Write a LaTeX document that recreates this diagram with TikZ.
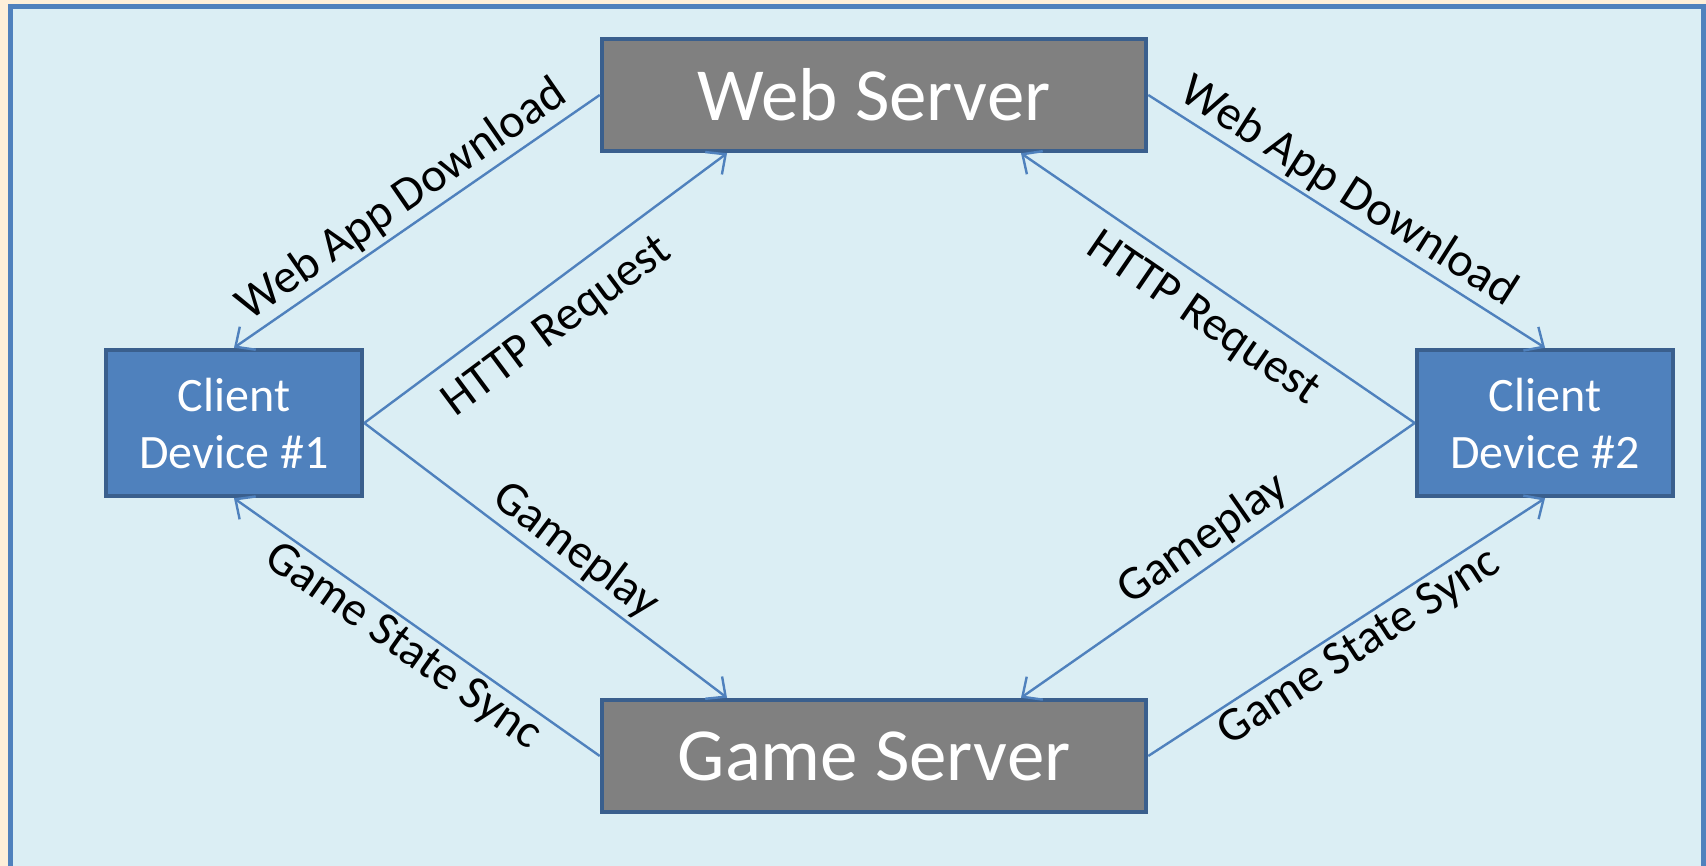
\documentclass[tikz,border=0pt]{standalone}
\usepackage{fontspec}
\setmainfont{Carlito}
\usetikzlibrary{arrows.meta}
\definecolor{beige}{HTML}{FDEFD9}
\definecolor{panel}{HTML}{DBEEF4}
\definecolor{accent}{HTML}{4F81BD}
\definecolor{edge}{HTML}{3A5F8D}
\definecolor{srvgray}{HTML}{808080}
\begin{document}
\begin{tikzpicture}[x=1pt,y=-1pt,
  server/.style={draw=edge,line width=4.5pt,fill=srvgray,text=white,minimum width=544pt,minimum height=112pt,inner sep=0pt,font=\fontsize{75}{90}\selectfont},
  client/.style={draw=edge,line width=4.5pt,fill=accent,text=white,minimum width=256pt,minimum height=146pt,inner sep=0pt,align=center,font=\fontsize{48}{57}\selectfont},
  link/.style={draw=accent,line width=2.4pt,-{Straight Barb[length=15pt,width=28pt,line width=2.4pt]}},
  lbl/.style={midway,sloped,font=\fontsize{48}{56}\selectfont,text=black,inner sep=4pt}
]
\useasboundingbox (0,0) rectangle (1706,866);
\fill[beige] (0,0) rectangle (1706,866);
\filldraw[fill=panel,draw=accent,line width=5pt] (10.5,6.5) rectangle (1703.5,880);
\node[server] (web) at (874,95) {Web Server};
\node[server] (game) at (874,756) {Game Server};
\node[client] (c1) at (234,423) {Client\\Device \#1};
\node[client] (c2) at (1545,423) {Client\\Device \#2};
\draw[link] (web.west) -- node[lbl,above] {Web App Download} (c1.north);
\draw[link] (c1.east) -- node[lbl,below=14pt,pos=0.47] {HTTP Request} ([xshift=-147pt]web.south);
\draw[link] (c1.east) -- node[lbl,above,pos=0.54] {Gameplay} ([xshift=-147pt]game.north);
\draw[link] (game.west) -- node[lbl,below] {Game State Sync} (c1.south);
\draw[link] (web.east) -- node[lbl,above,pos=0.47] {Web App Download} (c2.north);
\draw[link] (c2.west) -- node[lbl,below=10pt,pos=0.49] {HTTP Request} ([xshift=147pt]web.south);
\draw[link] (c2.west) -- node[lbl,above] {Gameplay} ([xshift=147pt]game.north);
\draw[link] (game.east) -- node[lbl,below] {Game State Sync} (c2.south);
\end{tikzpicture}
\end{document}
